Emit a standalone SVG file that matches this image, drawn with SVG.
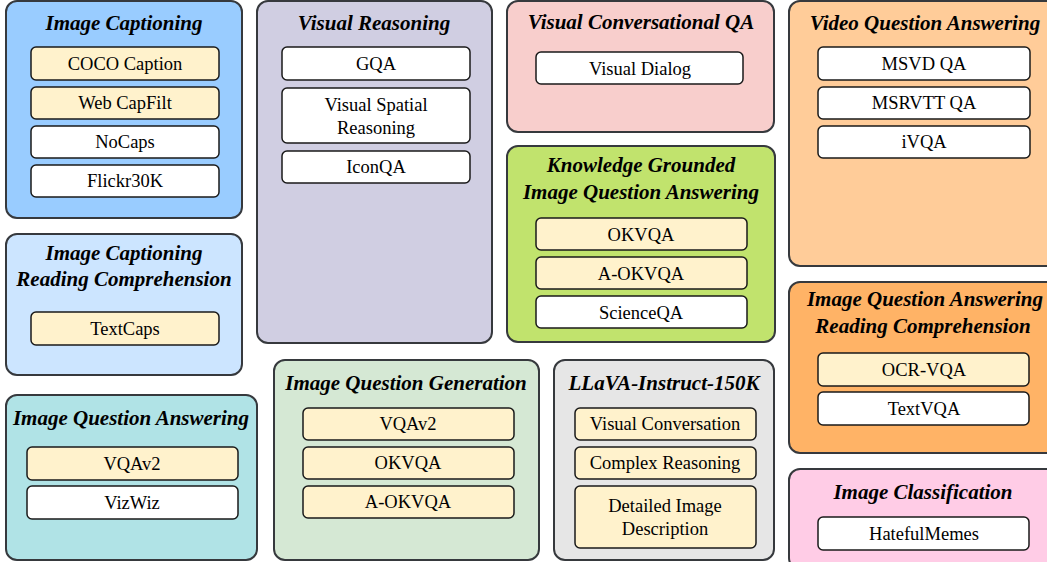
<svg xmlns="http://www.w3.org/2000/svg" width="1047" height="562" viewBox="0 0 1047 562">
<style>
.grp{stroke:#36393d;stroke-width:2}
.item{stroke:#1a1a1a;stroke-width:1.5}
.y{fill:#fff2cc}
.w{fill:#ffffff}
.t{font-family:'Liberation Serif','Times New Roman',Tinos,'DejaVu Serif',serif;font-weight:bold;font-style:italic;font-size:21px;fill:#000;text-anchor:middle}
.s{font-family:'Liberation Serif','Times New Roman',Tinos,'DejaVu Serif',serif;font-size:18.5px;fill:#000;text-anchor:middle}
</style>
<rect width="1047" height="562" fill="#ffffff"/>
<g id="connectors"></g>

<g id="image-captioning">
<rect class="grp" x="6" y="1" width="236" height="217" rx="11" fill="#99ccff"/>
<text class="t" x="124" y="30">Image Captioning</text>
<rect class="item y" x="31" y="47" width="188" height="33" rx="5"/>
<text class="s" x="125" y="70">COCO Caption</text>
<rect class="item y" x="31" y="87" width="188" height="32" rx="5"/>
<text class="s" x="125" y="109">Web CapFilt</text>
<rect class="item w" x="31" y="126" width="188" height="32" rx="5"/>
<text class="s" x="125" y="148">NoCaps</text>
<rect class="item w" x="31" y="165" width="188" height="32" rx="5"/>
<text class="s" x="125" y="187">Flickr30K</text>
</g>

<g id="image-captioning-rc">
<rect class="grp" x="6" y="234" width="236" height="141" rx="11" fill="#cce5ff"/>
<text class="t" x="124" y="260">Image Captioning</text>
<text class="t" x="124" y="286">Reading Comprehension</text>
<rect class="item y" x="31" y="312" width="188" height="33" rx="5"/>
<text class="s" x="125" y="335">TextCaps</text>
</g>

<g id="image-question-answering">
<rect class="grp" x="6" y="395" width="251" height="165" rx="11" fill="#b0e3e6"/>
<text class="t" x="131" y="425">Image Question Answering</text>
<rect class="item y" x="27" y="447" width="211" height="33" rx="5"/>
<text class="s" x="132" y="470">VQAv2</text>
<rect class="item w" x="27" y="486" width="211" height="33" rx="5"/>
<text class="s" x="132" y="509">VizWiz</text>
</g>

<g id="visual-reasoning">
<rect class="grp" x="257" y="1" width="235" height="342" rx="11" fill="#d0cee2"/>
<text class="t" x="374" y="30">Visual Reasoning</text>
<rect class="item w" x="282" y="47" width="188" height="33" rx="5"/>
<text class="s" x="376" y="70">GQA</text>
<rect class="item w" x="282" y="88" width="188" height="55" rx="5"/>
<text class="s" x="376" y="111">Visual Spatial</text>
<text class="s" x="376" y="134">Reasoning</text>
<rect class="item w" x="282" y="151" width="188" height="32" rx="5"/>
<text class="s" x="376" y="173">IconQA</text>
</g>

<g id="image-question-generation">
<rect class="grp" x="274" y="360" width="265" height="200" rx="11" fill="#d5e8d4"/>
<text class="t" x="406" y="390">Image Question Generation</text>
<rect class="item y" x="303" y="408" width="211" height="32" rx="5"/>
<text class="s" x="408" y="430">VQAv2</text>
<rect class="item y" x="303" y="447" width="211" height="32" rx="5"/>
<text class="s" x="408" y="469">OKVQA</text>
<rect class="item y" x="303" y="486" width="211" height="32" rx="5"/>
<text class="s" x="408" y="508">A-OKVQA</text>
</g>

<g id="visual-conversational-qa">
<rect class="grp" x="507" y="1" width="267" height="131" rx="11" fill="#f8cecc"/>
<text class="t" x="641" y="29">Visual Conversational QA</text>
<rect class="item w" x="536" y="52" width="207" height="32" rx="5"/>
<text class="s" x="640" y="75">Visual Dialog</text>
</g>

<g id="knowledge-grounded-iqa">
<rect class="grp" x="507" y="146" width="268" height="196" rx="11" fill="#c1e36d"/>
<text class="t" x="641" y="172">Knowledge Grounded</text>
<text class="t" x="641" y="199">Image Question Answering</text>
<rect class="item y" x="536" y="218" width="211" height="32" rx="5"/>
<text class="s" x="641" y="241">OKVQA</text>
<rect class="item y" x="536" y="257" width="211" height="32" rx="5"/>
<text class="s" x="641" y="280">A-OKVQA</text>
<rect class="item w" x="536" y="296" width="211" height="32" rx="5"/>
<text class="s" x="641" y="319">ScienceQA</text>
</g>

<g id="llava-instruct">
<rect class="grp" x="554" y="360" width="220" height="200" rx="11" fill="#e6e6e6"/>
<text class="t" x="664" y="390">LLaVA-Instruct-150K</text>
<rect class="item y" x="575" y="408" width="181" height="32" rx="5"/>
<text class="s" x="665" y="430">Visual Conversation</text>
<rect class="item y" x="575" y="447" width="181" height="32" rx="5"/>
<text class="s" x="665" y="469">Complex Reasoning</text>
<rect class="item y" x="575" y="486" width="181" height="62" rx="5"/>
<text class="s" x="665" y="512">Detailed Image</text>
<text class="s" x="665" y="535">Description</text>
</g>

<g id="video-question-answering">
<rect class="grp" x="789" y="1" width="272" height="265" rx="11" fill="#ffcc99"/>
<text class="t" x="925" y="30">Video Question Answering</text>
<rect class="item w" x="818" y="47" width="212" height="33" rx="5"/>
<text class="s" x="924" y="70">MSVD QA</text>
<rect class="item w" x="818" y="87" width="212" height="32" rx="5"/>
<text class="s" x="924" y="109">MSRVTT QA</text>
<rect class="item w" x="818" y="126" width="212" height="32" rx="5"/>
<text class="s" x="924" y="148">iVQA</text>
</g>

<g id="iqa-reading-comprehension">
<rect class="grp" x="789" y="282" width="272" height="171" rx="11" fill="#ffb366"/>
<text class="t" x="925" y="306">Image Question Answering</text>
<text class="t" x="923" y="333">Reading Comprehension</text>
<rect class="item y" x="818" y="353" width="211" height="33" rx="5"/>
<text class="s" x="924" y="376">OCR-VQA</text>
<rect class="item w" x="818" y="392" width="211" height="33" rx="5"/>
<text class="s" x="924" y="415">TextVQA</text>
</g>

<g id="image-classification">
<rect class="grp" x="789" y="469" width="272" height="100" rx="11" fill="#ffcce6"/>
<text class="t" x="923" y="499">Image Classification</text>
<rect class="item w" x="818" y="517" width="211" height="33" rx="5"/>
<text class="s" x="924" y="540">HatefulMemes</text>
</g>
</svg>
